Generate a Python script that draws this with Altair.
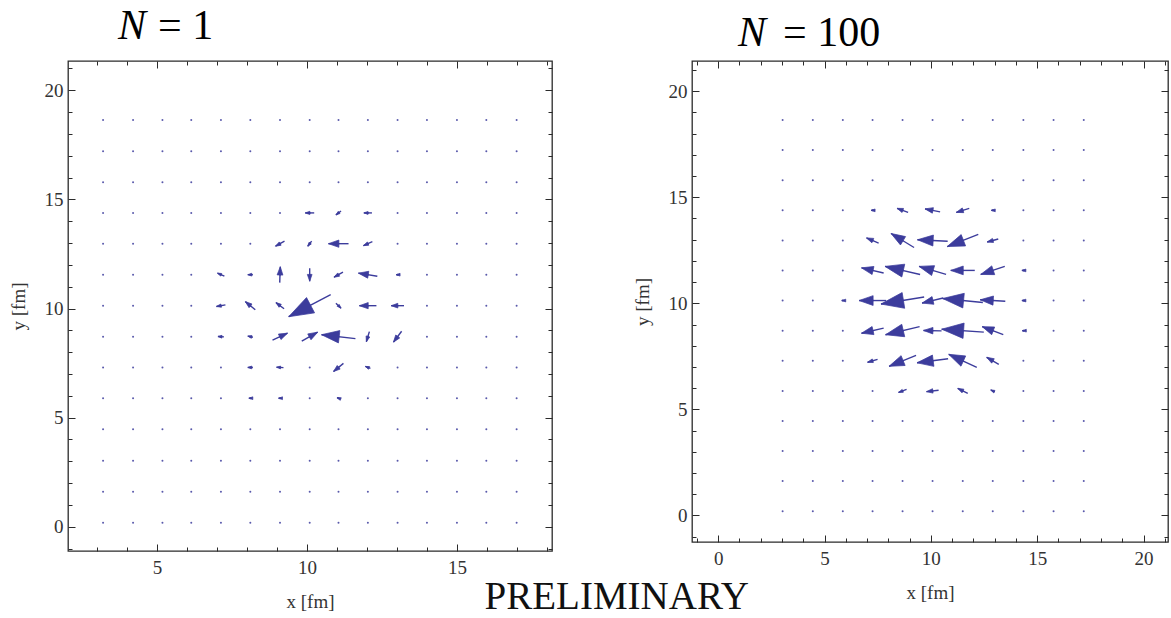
import math
import altair as alt
import pandas as pd

ARROW = "#3c3c9c"
SERIF = "Liberation Serif, Times New Roman, serif"
INK = "#2b2b2b"

# ---------------- left panel (N = 1) ----------------
left_grid_x = [3.2, 4.2, 5.18, 6.14, 7.13, 8.11, 9.1, 10.09, 11.05, 12.03, 13.02, 14.0, 15.0, 15.98, 16.99]
left_grid_y = [0.19, 1.61, 3.02, 4.47, 5.89, 7.3, 8.71, 10.13, 11.55, 12.97, 14.38, 15.79, 17.21, 18.64]

left_arrow_x = [10.09, 11.05, 12.03,
                9.1, 10.09, 11.05, 12.03,
                7.13, 8.11, 9.1, 10.09, 11.05, 12.03, 13.02,
                7.13, 8.11, 9.1, 10.09, 11.05, 12.03, 13.02,
                7.13, 8.11, 9.1, 10.09, 11.05, 12.03, 13.02,
                8.11, 9.1, 11.05, 12.03,
                8.11, 9.1, 11.05]
left_arrow_y = [14.38, 14.38, 14.38,
                12.97, 12.97, 12.97, 12.97,
                11.55, 11.55, 11.55, 11.55, 11.55, 11.55, 11.55,
                10.13, 10.13, 10.13, 10.13, 10.13, 10.13, 10.13,
                8.71, 8.71, 8.71, 8.71, 8.71, 8.71, 8.71,
                7.3, 7.3, 7.3, 7.3,
                5.89, 5.89, 5.89]
left_arrow_u = [-0.30, -0.17, -0.27,
                -0.30, -0.13, -0.67, -0.30,
                -0.23, -0.17, 0.02, 0.0, -0.30, -0.63, -0.10,
                -0.30, -0.33, -0.27, -1.40, 0.17, -0.57, -0.43,
                -0.20, -0.17, 0.50, 0.53, -1.13, -0.10, -0.27,
                -0.17, -0.23, -0.33, -0.17,
                -0.10, -0.10, -0.10]
left_arrow_v = [0.0, -0.18, 0.0,
                -0.23, -0.23, 0.0, -0.18,
                0.14, 0.0, 0.73, -0.60, -0.23, 0.14, 0.0,
                -0.07, 0.37, 0.28, -1.01, -0.23, 0.0, 0.0,
                0.02, 0.05, 0.32, 0.41, 0.18, -0.46, -0.50,
                0.0, 0.02, -0.37, 0.09,
                0.0, 0.0, 0.05]

# ---------------- right panel (N = 100) ----------------
right_grid_x = [3.03, 4.45, 5.86, 7.26, 8.67, 10.08, 11.5, 12.91, 14.35, 15.77, 17.19]
right_grid_y = [0.2, 1.62, 3.04, 4.45, 5.87, 7.29, 8.71, 10.13, 11.55, 12.96, 14.38, 15.8, 17.22, 18.64]

right_arrow_x = [7.26, 8.67, 10.08, 11.5, 12.91,
                 7.26, 8.67, 10.08, 11.5, 12.91,
                 7.26, 8.67, 10.08, 11.5, 12.91, 14.35,
                 5.86, 7.26, 8.67, 10.08, 11.5, 12.91, 14.35,
                 7.26, 8.67, 10.08, 11.5, 12.91, 14.35,
                 7.26, 8.67, 10.08, 11.5, 12.91,
                 8.67, 10.08, 11.5, 12.91]
right_arrow_y = [14.38] * 5 + [12.96] * 5 + [11.55] * 6 + [10.13] * 7 + [8.71] * 6 + [7.29] * 5 + [5.87] * 4
right_arrow_u = [-0.14, -0.52, -0.71, -0.61, -0.14,
                 -0.57, -1.08, -1.42, -1.46, -0.52,
                 -1.04, -1.65, -1.27, -1.13, -1.13, -0.14,
                 -0.10, -1.27, -2.03, -0.99, -1.89, -1.18, -0.14,
                 -1.04, -1.60, -0.85, -1.98, -0.99, -0.10,
                 -0.47, -1.27, -1.46, -1.32, -0.57,
                 -0.38, -0.57, -0.47, -0.19]
right_arrow_v = [0.0, 0.19, 0.14, -0.19, 0.0,
                 0.24, 0.66, 0.07, -0.57, -0.14,
                 0.24, 0.38, 0.38, 0.0, -0.38, 0.0,
                 0.0, 0.0, -0.33, -0.24, 0.19, 0.07, 0.0,
                 -0.24, -0.38, 0.02, 0.14, 0.38, 0.0,
                 -0.14, -0.52, -0.19, 0.61, 0.33,
                 -0.14, -0.07, 0.24, 0.09]

left_ticks_x = list(range(3, 19))
left_ticks_y = list(range(-1, 22))
right_ticks_x = list(range(-1, 22))
right_ticks_y = list(range(-1, 22))

panel_titles = ["= 1", "= 100"]

TICK = {"expr": "datum.value % 5 === 0 ? -7 : -4"}


def labelled_axis(orient, values, title, pad, tpad):
    return alt.Axis(orient=orient, values=values, grid=False, domain=False,
                    tickSize=TICK, tickColor=INK, tickWidth=1,
                    labelExpr="datum.value % 5 === 0 ? datum.label : ''",
                    labelFont=SERIF, labelFontSize=19, labelColor="#333",
                    labelPadding=pad, labelOverlap=False, labelFlush=False,
                    title=title, titleFont=SERIF, titleFontSize=19,
                    titleFontWeight="normal", titleColor="#333", titlePadding=tpad)


def bare_axis(orient, values):
    return alt.Axis(orient=orient, values=values, grid=False, domain=False,
                    tickSize=TICK, tickColor=INK, tickWidth=1,
                    labels=False, title="")


def panel(gx, gy, ax, ay, au, av, xdom, ydom, W, H, xt, yt, rest, ty, rest_dx):
    sx = W / (xdom[1] - xdom[0])
    sy = H / (ydom[1] - ydom[0])
    dots = pd.DataFrame([(x, y) for y in gy for x in gx], columns=["x", "y"])
    rows = []
    for x, y, u, v in zip(ax, ay, au, av):
        px, py = u * sx, v * sy
        L = math.hypot(px, py)
        hl = max(0.52 * L, 4.0)
        ang = math.degrees(math.atan2(px, py)) % 360
        rows.append(dict(x0=x - u / 2, y0=y - v / 2, x1=x + u / 2, y1=y + v / 2,
                         ang=ang, size=hl * hl))
    arr = pd.DataFrame(rows)
    xs = alt.Scale(domain=xdom, nice=False, zero=False)
    ys = alt.Scale(domain=ydom, nice=False, zero=False)

    dot_layer = alt.Chart(dots).mark_circle(size=4, color=ARROW, opacity=0.85).encode(
        x=alt.X("x:Q", scale=xs, axis=labelled_axis("bottom", xt, "x [fm]", 14, 12)),
        y=alt.Y("y:Q", scale=ys, axis=labelled_axis("left", yt, "y [fm]", 12, 16)),
    )
    shafts = alt.Chart(arr).mark_rule(color=ARROW, strokeWidth=1.4).encode(
        x=alt.X("x0:Q", scale=xs, axis=bare_axis("top", xt)),
        y=alt.Y("y0:Q", scale=ys, axis=bare_axis("right", yt)),
        x2="x1:Q", y2="y1:Q",
    )
    heads = alt.Chart(arr).mark_point(shape="M0,0L-0.7,2L0.7,2Z", filled=True,
                                      color=ARROW, opacity=1, stroke=ARROW,
                                      strokeWidth=0.7).encode(
        x=alt.X("x1:Q", scale=xs, axis=None),
        y=alt.Y("y1:Q", scale=ys, axis=None),
        angle=alt.Angle("ang:Q", scale=None),
        size=alt.Size("size:Q", scale=None),
    )
    tN = alt.Chart(pd.DataFrame({"t": ["N"]})).mark_text(
        font=SERIF, fontSize=42, fontStyle="italic", align="left", baseline="alphabetic",
        color="#000").encode(text="t:N", x=alt.value(rest_dx[0]), y=alt.value(ty))
    tR = alt.Chart(pd.DataFrame({"t": [rest]})).mark_text(
        font=SERIF, fontSize=42, align="left", baseline="alphabetic",
        color="#000").encode(text="t:N", x=alt.value(rest_dx[1]), y=alt.value(ty))
    return alt.layer(dot_layer, shafts, heads, tN, tR).resolve_axis(
        x="independent", y="independent").properties(width=W, height=H)


left = panel(left_grid_x, left_grid_y, left_arrow_x, left_arrow_y, left_arrow_u, left_arrow_v,
             [2.03, 18.17], [-1.11, 21.34], 484, 490, left_ticks_x, left_ticks_y,
             panel_titles[0], -22, (50, 90))
right = panel(right_grid_x, right_grid_y, right_arrow_x, right_arrow_y, right_arrow_u, right_arrow_v,
              [-1.23, 21.15], [-1.25, 21.42], 476, 481, right_ticks_x, right_ticks_y,
              panel_titles[1], -15, (46, 91))

chart = alt.hconcat(left, right, spacing=140, bounds="flush").properties(
    title=alt.TitleParams("PRELIMINARY", orient="bottom", anchor="middle", font=SERIF,
                          fontSize=39, fontWeight="normal", color="#111", offset=-34, dx=28),
    padding={"left": 8, "top": 4, "right": 0, "bottom": 0},
).configure_view(stroke=INK, strokeWidth=1.3)

chart.save("out.html", embed_options={"renderer": "svg", "actions": False})
